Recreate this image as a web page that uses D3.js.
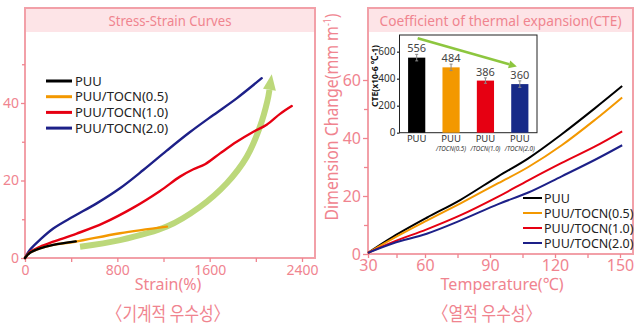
<!DOCTYPE html>
<html>
<head>
<meta charset="utf-8">
<script src="https://cdn.jsdelivr.net/npm/d3@7"></script>
<style>
  body { margin: 0; background: #fff; }
  svg { display: block; }
</style>
</head>
<body>
<div id="chart"></div>
<script>
// ---- data ----
const seriesNames = ["PUU", "PUU/TOCN(0.5)", "PUU/TOCN(1.0)", "PUU/TOCN(2.0)"];

// stress-strain curves (strain %, stress)
const strainPUU = [0, 40, 130, 245, 440];
const stressPUU = [0, 1.3, 2.5, 3.4, 4.3];
const strainT05 = [0, 40, 130, 245, 433, 823, 1230];
const stressT05 = [0, 1.3, 2.5, 3.4, 4.2, 6.4, 8.1];
const strainT10 = [0, 40, 130, 245, 448, 679, 939, 1170, 1343, 1459, 1560, 1690, 1834, 1979, 2094, 2210, 2311];
const stressT10 = [0, 1.5, 2.9, 4.2, 6.3, 9.0, 13.0, 17.3, 21.0, 22.9, 24.2, 27.0, 30.0, 32.6, 34.4, 37.2, 39.2];
const strainT20 = [0, 40, 130, 245, 419, 621, 823, 1025, 1228, 1430, 1632, 1834, 2051];
const stressT20 = [0, 2.0, 4.7, 7.6, 10.7, 14.1, 18.0, 22.7, 27.7, 32.5, 36.9, 41.2, 46.4];
// trend arrow on the stress-strain plot
const arrowStrain = [477, 823, 1228, 1516, 1748, 1921, 2036, 2100, 2118];
const arrowStress = [2.9, 4.6, 8.1, 13.2, 19.3, 26.1, 33.9, 40.5, 43.4];
const arrowTip = [2138, 47.4];

// thermal expansion (temperature, dimension change)
const temps = [30, 43.3, 60.8, 76.2, 93.8, 107.7, 123.1, 138.5, 151];
const dimPUU = [0.4, 6.0, 12.5, 18.6, 26.8, 33.0, 41.3, 50.3, 57.9];
const dimT05 = [0.4, 5.4, 11.5, 17.4, 24.4, 30.0, 37.5, 46.3, 54.0];
const dimT10 = [0.4, 4.2, 8.5, 13.3, 19.8, 25.4, 31.4, 37.1, 42.3];
const dimT20 = [0.4, 3.7, 7.0, 11.5, 17.2, 21.2, 26.8, 32.5, 37.5];

// CTE inset bars
const cteLabels = ["PUU", "/TOCN(0.5)", "/TOCN(1.0)", "/TOCN(2.0)"];
const cteValues = [556, 484, 386, 360];
const cteErrors = [24, 24, 20, 24];
const cteArrow = [700, 490];

// ticks
const strainTicks = [0, 800, 1600, 2400];
const strainMinor = [400, 1200, 2000];
const stressTicks = [0, 20, 40];
const stressMinor = [10, 30, 50];
const tempTicks = [30, 60, 90, 120, 150];
const tempMinor = [45, 75, 105, 135];
const dimTicks = [0, 20, 40, 60];
const dimMinor = [10, 30, 50];
const cteTicks = [0, 200, 400, 600];

// ---- style ----
const colors = ["#000000", "#f39800", "#e60012", "#1d2088"];
const pink = "#f0848f";
const frameColor = "#f2a0a8";
const bandColor = "#fde4e7";
const font = "'Noto Sans', sans-serif";
const krFont = "'Noto Sans CJK KR', sans-serif";

const svg = d3.select("#chart").append("svg")
    .attr("width", 635)
    .attr("height", 329)
    .style("font-family", font);

// ---- scales ----
const xStrain = d3.scaleLinear().domain([0, 2400]).range([25, 302]);
const yStress = d3.scaleLinear().domain([0, 40]).range([258, 103]);
const xTemp = d3.scaleLinear().domain([30, 60, 150]).range([368, 425, 620]);
const yDim = d3.scaleLinear().domain([0, 60]).range([254, 80]);
const xCte = d3.scaleBand().domain(cteLabels).range([399.5, 537]).paddingInner(0.5).paddingOuter(0.25);
const yCte = d3.scaleLinear().domain([0, 600]).range([132.7, 51.7]);

function zip(xs, ys) {
    return xs.map((x, i) => [x, ys[i]]);
}

function styleAxis(g, color, size) {
    g.select(".domain").remove();
    g.selectAll("line").attr("stroke", color).attr("stroke-width", 1.3);
    g.selectAll("text").attr("fill", color).style("font-size", size + "px").style("font-family", font);
}

function drawPanel(x0, x1, y0, y1, title, titleLen) {
    svg.append("rect")
        .attr("x", x0).attr("y", y0)
        .attr("width", x1 - x0).attr("height", 24)
        .attr("fill", bandColor);
    svg.append("rect")
        .attr("x", x0).attr("y", y0)
        .attr("width", x1 - x0).attr("height", y1 - y0)
        .attr("fill", "none")
        .attr("stroke", frameColor)
        .attr("stroke-width", 2);
    svg.append("text")
        .attr("x", (x0 + x1) / 2)
        .attr("y", y0 + 18)
        .attr("text-anchor", "middle")
        .attr("fill", pink)
        .style("font-size", "14px")
        .attr("textLength", titleLen)
        .attr("lengthAdjust", "spacingAndGlyphs")
        .text(title);
}

// ================= left: stress-strain =================
drawPanel(25, 315, 8, 258, "Stress-Strain Curves", 123);

svg.append("g")
    .attr("transform", "translate(25,0)")
    .call(d3.axisLeft(yStress).tickValues(stressTicks).tickSize(4).tickPadding(2))
    .call(g => styleAxis(g, pink, 14));
svg.append("g")
    .attr("transform", "translate(25,0)")
    .call(d3.axisLeft(yStress).tickValues(stressMinor).tickSize(3).tickFormat(""))
    .call(g => styleAxis(g, pink, 14));
svg.append("g")
    .attr("transform", "translate(0,258)")
    .call(d3.axisBottom(xStrain).tickValues(strainTicks).tickSize(4).tickPadding(3).tickFormat(d3.format("d")))
    .call(g => styleAxis(g, pink, 14));
svg.append("g")
    .attr("transform", "translate(0,258)")
    .call(d3.axisBottom(xStrain).tickValues(strainMinor).tickSize(4).tickFormat(""))
    .call(g => styleAxis(g, pink, 14));

// trend arrow (behind the curves)
const arrowPts = zip(arrowStrain, arrowStress).map(d => [xStrain(d[0]), yStress(d[1])]);
svg.append("path")
    .attr("d", d3.line().curve(d3.curveCatmullRom)(arrowPts))
    .attr("fill", "none")
    .attr("stroke", "#bcd87a")
    .attr("stroke-width", 6);
(function () {
    const base = arrowPts[arrowPts.length - 1];
    const tip = [xStrain(arrowTip[0]), yStress(arrowTip[1])];
    const dx = tip[0] - base[0], dy = tip[1] - base[1];
    const len = Math.hypot(dx, dy);
    const nx = -dy / len * 6.5, ny = dx / len * 6.5;
    svg.append("polygon")
        .attr("points", [[base[0] + nx, base[1] + ny], tip, [base[0] - nx, base[1] - ny]].join(" "))
        .attr("fill", "#bcd87a");
})();

const strainLine = d3.line()
    .curve(d3.curveCatmullRom.alpha(0.5))
    .x(d => xStrain(d[0]))
    .y(d => yStress(d[1]));
const stressSeries = [
    zip(strainT20, stressT20),
    zip(strainT10, stressT10),
    zip(strainT05, stressT05),
    zip(strainPUU, stressPUU)
];
const stressColors = [colors[3], colors[2], colors[1], colors[0]];
svg.append("g")
    .selectAll("path")
    .data(stressSeries)
    .enter()
    .append("path")
    .attr("d", strainLine)
    .attr("fill", "none")
    .attr("stroke", (d, i) => stressColors[i])
    .attr("stroke-width", 2.4)
    .attr("stroke-linecap", "round");

// left legend
const legL = svg.append("g").selectAll("g")
    .data(seriesNames)
    .enter()
    .append("g")
    .attr("transform", (d, i) => `translate(46, ${81 + i * 15.7})`);
legL.append("line")
    .attr("x1", 0).attr("x2", 26)
    .attr("stroke", (d, i) => colors[i])
    .attr("stroke-width", 3);
legL.append("text")
    .attr("x", 29)
    .attr("dy", "0.36em")
    .attr("fill", "#222")
    .style("font-size", "13px")
    .text(d => d);

svg.append("text")
    .attr("x", 168).attr("y", 290)
    .attr("text-anchor", "middle")
    .attr("fill", pink)
    .style("font-size", "16px")
    .text("Strain(%)");
svg.append("text")
    .attr("x", 168).attr("y", 321)
    .attr("text-anchor", "middle")
    .attr("fill", pink)
    .style("font-family", krFont)
    .style("font-size", "19px")
    .attr("textLength", 123)
    .attr("lengthAdjust", "spacingAndGlyphs")
    .text("〈기계적 우수성〉");

// ================= right: thermal expansion =================
drawPanel(368, 633, 8, 254, "Coefficient of thermal expansion(CTE)", 242);

svg.append("g")
    .attr("transform", "translate(368,0)")
    .call(d3.axisLeft(yDim).tickValues(dimTicks).tickSize(5).tickPadding(2))
    .call(g => styleAxis(g, pink, 16));
svg.append("g")
    .attr("transform", "translate(368,0)")
    .call(d3.axisLeft(yDim).tickValues(dimMinor).tickSize(4).tickFormat(""))
    .call(g => styleAxis(g, pink, 16));
svg.append("g")
    .attr("transform", "translate(0,254)")
    .call(d3.axisBottom(xTemp).tickValues(tempTicks).tickSize(4).tickPadding(2))
    .call(g => styleAxis(g, pink, 16));
svg.append("g")
    .attr("transform", "translate(0,254)")
    .call(d3.axisBottom(xTemp).tickValues(tempMinor).tickSize(4).tickFormat(""))
    .call(g => styleAxis(g, pink, 16));

const tempLine = d3.line()
    .curve(d3.curveCatmullRom.alpha(0.5))
    .x(d => xTemp(d[0]))
    .y(d => yDim(d[1]));
const dimSeries = [dimPUU, dimT05, dimT10, dimT20].map(ys => zip(temps, ys));
svg.append("g")
    .selectAll("path")
    .data(dimSeries)
    .enter()
    .append("path")
    .attr("d", tempLine)
    .attr("fill", "none")
    .attr("stroke", (d, i) => colors[i])
    .attr("stroke-width", 2);

// right legend
const legR = svg.append("g").selectAll("g")
    .data(seriesNames)
    .enter()
    .append("g")
    .attr("transform", (d, i) => `translate(523, ${198 + i * 15})`);
legR.append("line")
    .attr("x1", 0).attr("x2", 19)
    .attr("stroke", (d, i) => colors[i])
    .attr("stroke-width", 2);
legR.append("text")
    .attr("x", 21)
    .attr("dy", "0.36em")
    .attr("fill", "#222")
    .style("font-size", "12.5px")
    .text(d => d);

svg.append("text")
    .attr("x", 502).attr("y", 290)
    .attr("text-anchor", "middle")
    .attr("fill", pink)
    .style("font-size", "17px")
    .attr("textLength", 123)
    .attr("lengthAdjust", "spacingAndGlyphs")
    .text("Temperature(℃)");
svg.append("text")
    .attr("x", 487).attr("y", 321)
    .attr("text-anchor", "middle")
    .attr("fill", pink)
    .style("font-family", krFont)
    .style("font-size", "19px")
    .attr("textLength", 109)
    .attr("lengthAdjust", "spacingAndGlyphs")
    .text("〈열적 우수성〉");

const yLab = svg.append("text")
    .attr("transform", "translate(338,117) rotate(-90)")
    .attr("text-anchor", "middle")
    .attr("fill", pink)
    .style("font-size", "18px")
    .attr("textLength", 207)
    .attr("lengthAdjust", "spacingAndGlyphs");
yLab.append("tspan").text("Dimension Change(mm m");
yLab.append("tspan").attr("dy", -7).style("font-size", "10px").text("-1");
yLab.append("tspan").attr("dy", 7).text(")");

// ---- inset: CTE bars ----
const inset = svg.append("g");
inset.append("rect")
    .attr("x", 399.5).attr("y", 35)
    .attr("width", 137.5).attr("height", 97.7)
    .attr("fill", "#fff")
    .attr("stroke", "#222")
    .attr("stroke-width", 1);

inset.append("g")
    .attr("transform", "translate(399.5,0)")
    .call(d3.axisLeft(yCte).tickValues(cteTicks).tickSize(2.5).tickPadding(1.5))
    .call(g => styleAxis(g, "#333", 10));

inset.selectAll(".bar")
    .data(cteValues)
    .enter()
    .append("rect")
    .attr("class", "bar")
    .attr("x", (d, i) => xCte(cteLabels[i]))
    .attr("y", d => yCte(d))
    .attr("width", xCte.bandwidth())
    .attr("height", d => yCte(0) - yCte(d))
    .attr("fill", (d, i) => colors[i] === "#1d2088" ? "#172a88" : colors[i]);

const cx = i => xCte(cteLabels[i]) + xCte.bandwidth() / 2;
const err = inset.append("g").attr("stroke", "#8a8a8a").attr("stroke-width", 1);
cteValues.forEach((v, i) => {
    err.append("line").attr("x1", cx(i)).attr("x2", cx(i))
        .attr("y1", yCte(v + cteErrors[i])).attr("y2", yCte(v - cteErrors[i]));
    err.append("line").attr("x1", cx(i) - 1.5).attr("x2", cx(i) + 1.5)
        .attr("y1", yCte(v + cteErrors[i])).attr("y2", yCte(v + cteErrors[i]));
    err.append("line").attr("x1", cx(i) - 1.5).attr("x2", cx(i) + 1.5)
        .attr("y1", yCte(v - cteErrors[i])).attr("y2", yCte(v - cteErrors[i]));
});

inset.selectAll(".val")
    .data(cteValues)
    .enter()
    .append("text")
    .attr("class", "val")
    .attr("x", (d, i) => cx(i))
    .attr("y", (d, i) => yCte(d + cteErrors[i]) - 2)
    .attr("text-anchor", "middle")
    .attr("fill", "#444")
    .style("font-size", "11px")
    .text(d => d);

const xl = inset.selectAll(".xl")
    .data(cteLabels)
    .enter()
    .append("g")
    .attr("class", "xl")
    .attr("transform", (d, i) => `translate(${cx(i)},0)`);
xl.append("text")
    .attr("y", 142)
    .attr("text-anchor", "middle")
    .attr("fill", "#333")
    .style("font-size", "9.5px")
    .text("PUU");
xl.filter((d, i) => i > 0)
    .append("text")
    .attr("y", 150.5)
    .attr("text-anchor", "middle")
    .attr("fill", "#333")
    .style("font-size", "6.2px")
    .style("font-style", "italic")
    .attr("textLength", 30)
    .attr("lengthAdjust", "spacingAndGlyphs")
    .text(d => d);

inset.append("text")
    .attr("transform", "translate(378,76) rotate(-90)")
    .attr("text-anchor", "middle")
    .attr("fill", "#111")
    .style("font-size", "9.5px")
    .style("font-weight", "bold")
    .attr("textLength", 62)
    .attr("lengthAdjust", "spacingAndGlyphs")
    .text("CTE(x10-6 ℃-1)");

// inset trend arrow
(function () {
    const a = [cx(0) + 1, yCte(cteArrow[0])];
    const b = [cx(3) - 3, yCte(cteArrow[1])];
    const dx = b[0] - a[0], dy = b[1] - a[1];
    const len = Math.hypot(dx, dy);
    const ux = dx / len, uy = dy / len;
    const base = [b[0] - ux * 8, b[1] - uy * 8];
    inset.append("line")
        .attr("x1", a[0]).attr("y1", a[1])
        .attr("x2", base[0]).attr("y2", base[1])
        .attr("stroke", "#8dc63f")
        .attr("stroke-width", 2.6);
    inset.append("polygon")
        .attr("points", [[base[0] - uy * 4, base[1] + ux * 4], b, [base[0] + uy * 4, base[1] - ux * 4]].join(" "))
        .attr("fill", "#8dc63f");
})();
</script>
</body>
</html>
